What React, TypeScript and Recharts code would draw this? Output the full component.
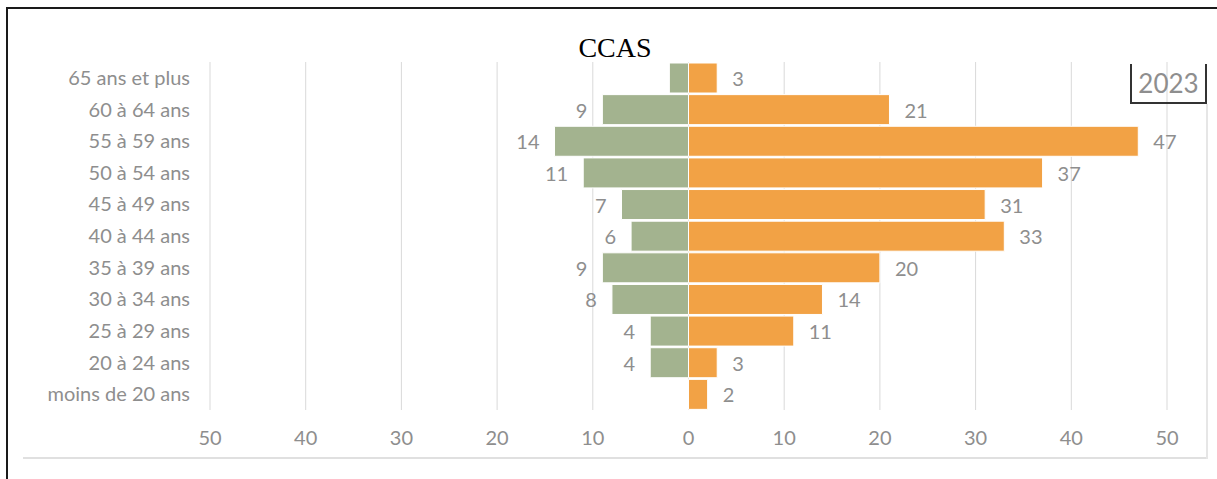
import {
  BarChart,
  Bar,
  XAxis,
  YAxis,
  CartesianGrid,
  LabelList,
} from 'recharts';

// age groups, top to bottom
const ageGroups = [
  '65 ans et plus',
  '60 à 64 ans',
  '55 à 59 ans',
  '50 à 54 ans',
  '45 à 49 ans',
  '40 à 44 ans',
  '35 à 39 ans',
  '30 à 34 ans',
  '25 à 29 ans',
  '20 à 24 ans',
  'moins de 20 ans',
];

// left side (green)
const leftValues = [2, 9, 14, 11, 7, 6, 9, 8, 4, 4, 0];
// labels shown on the left side (null = no label in the source)
const leftLabels = [null, 9, 14, 11, 7, 6, 9, 8, 4, 4, null];

// right side (orange)
const rightValues = [3, 21, 47, 37, 31, 33, 20, 14, 11, 3, 2];

const xTicks = [-50, -40, -30, -20, -10, 0, 10, 20, 30, 40, 50];

const data = ageGroups.map((name, i) => ({
  name,
  left: -leftValues[i],
  right: rightValues[i],
  leftLabel: leftLabels[i],
}));

const GREEN = '#a3b38f';
const ORANGE = '#f2a245';
const TEXT = '#8e8e8e';
const FONT = 'Lato, "Open Sans", sans-serif';
const FS = 20;

const LeftLabel = (props: any) => {
  const { x, width, y, height, value } = props;
  if (value === null || value === undefined) return null;
  const edge = Math.min(x, x + width);
  return (
    <text
      x={edge - 15}
      y={y + height / 2}
      textAnchor="end"
      dominantBaseline="central"
      fill={TEXT}
      fontSize={FS}
      fontFamily={FONT}
    >
      {value}
    </text>
  );
};

const RightLabel = (props: any) => {
  const { x, width, y, height, value } = props;
  const edge = Math.max(x, x + width);
  return (
    <text
      x={edge + 15}
      y={y + height / 2}
      textAnchor="start"
      dominantBaseline="central"
      fill={TEXT}
      fontSize={FS}
      fontFamily={FONT}
    >
      {value}
    </text>
  );
};

export default function App() {
  return (
    <div
      style={{
        position: 'absolute',
        left: 0,
        top: 0,
        width: 1217,
        height: 479,
        background: '#fff',
        overflow: 'hidden',
      }}
    >
      {/* frame pieces */}
      <div style={{ position: 'absolute', left: 6, top: 7, width: 1211, height: 2, background: '#1a1a1a' }} />
      <div style={{ position: 'absolute', left: 6, top: 7, width: 2, height: 472, background: '#1a1a1a' }} />
      <div style={{ position: 'absolute', left: 23, top: 457, width: 1185, height: 2, background: '#e0e0e0' }} />
      <div style={{ position: 'absolute', left: 1206, top: 104, width: 2, height: 355, background: '#e6e6e6' }} />

      <BarChart
        width={1217}
        height={479}
        data={data}
        layout="vertical"
        stackOffset="sign"
        barCategoryGap={1}
        margin={{ top: 62, right: 50, left: 20, bottom: 29 }}
        style={{ position: 'absolute', left: 0, top: 0 }}
      >
        <CartesianGrid horizontal={false} stroke="#d9d9d9" />
        <XAxis
          type="number"
          domain={[-50, 50]}
          ticks={xTicks}
          tickFormatter={(v: number) => String(Math.abs(v))}
          axisLine={false}
          tickLine={false}
          tickSize={0}
          tickMargin={21}
          height={40}
          tick={{ fill: TEXT, fontSize: FS, fontFamily: FONT }}
        />
        <YAxis
          type="category"
          dataKey="name"
          width={190}
          axisLine={false}
          tickLine={false}
          tickSize={0}
          tickMargin={20}
          interval={0}
          tick={{ fill: TEXT, fontSize: FS, fontFamily: FONT }}
        />
        <Bar dataKey="left" stackId="a" fill={GREEN} stroke="#fff" strokeWidth={1} isAnimationActive={false}>
          <LabelList dataKey="leftLabel" content={LeftLabel} />
        </Bar>
        <Bar dataKey="right" stackId="a" fill={ORANGE} stroke="#fff" strokeWidth={1} isAnimationActive={false}>
          <LabelList dataKey="right" content={RightLabel} />
        </Bar>
      </BarChart>

      <div
        style={{
          position: 'absolute',
          left: 555,
          top: 32,
          width: 120,
          textAlign: 'center',
          fontFamily: '"Liberation Serif", "Times New Roman", serif',
          fontSize: 28,
          color: '#000',
          lineHeight: '32px',
        }}
      >
        CCAS
      </div>

      <div
        style={{
          position: 'absolute',
          left: 1130,
          top: 64,
          width: 73,
          height: 38,
          borderLeft: '2px solid #333',
          borderRight: '2px solid #333',
          borderBottom: '2px solid #333',
          textAlign: 'center',
          fontFamily: FONT,
          fontSize: 26,
          lineHeight: '38px',
          color: TEXT,
        }}
      >
        2023
      </div>
    </div>
  );
}
